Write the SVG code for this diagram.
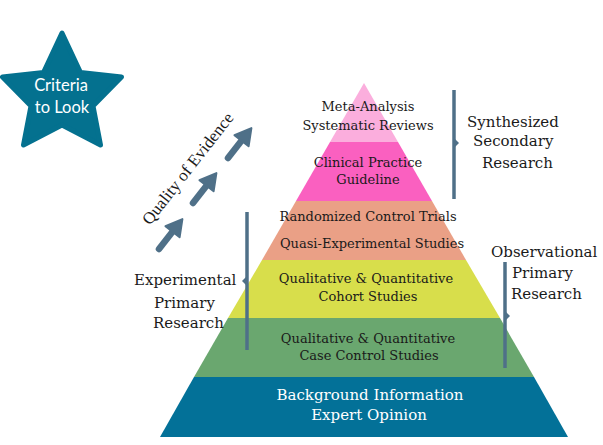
<svg xmlns="http://www.w3.org/2000/svg" width="603" height="445" viewBox="0 0 603 445">
<defs>
<style>
.t{font-family:"DejaVu Serif","Liberation Serif",serif;font-size:13px;fill:#1a1a1a;text-anchor:middle}
.w{font-family:"DejaVu Serif","Liberation Serif",serif;font-size:15px;fill:#ffffff;text-anchor:middle}
.l{font-family:"DejaVu Serif","Liberation Serif",serif;font-size:15px;fill:#1a1a1a}
.br{stroke:#4f7088;stroke-width:3.5;fill:none}
.nt{fill:#4f7088}
.s{font-family:Lato,"Open Sans",sans-serif;font-size:16.5px;fill:#ffffff;text-anchor:middle}
</style>
<g id="arr"><line x1="0" y1="0" x2="26" y2="0" stroke="#4f7088" stroke-width="6.5" stroke-linecap="round"/><polygon points="22,-9 38,0 22,9" fill="#4f7088" stroke="#4f7088" stroke-width="2" stroke-linejoin="round"/></g>
</defs>
<rect width="603" height="445" fill="#ffffff"/>
<g id="star">
<polygon points="62,33 80.5,72.5 121.5,77 93,106 100.5,145 62,125 23.5,145 31,106 2.5,77 43.5,72.5" fill="#04718f" stroke="#04718f" stroke-width="5" stroke-linejoin="round"/>
<text class="s" x="61" y="91">Criteria</text>
<text class="s" x="62" y="113">to Look</text>
</g>
<g id="tier1"><polygon points="364,83 398,142 330,142" fill="#fbaedd"/><text class="t" x="368" y="111">Meta-Analysis</text><text class="t" x="368" y="130">Systematic Reviews</text></g>
<g id="tier2"><polygon points="330,142 398,142 432,201 296,201" fill="#fa60c0"/><text class="t" x="368" y="167">Clinical Practice</text><text class="t" x="368" y="184">Guideline</text></g>
<g id="tier3"><polygon points="296,201 432,201 466,260 262,260" fill="#eaa086"/><text class="t" x="368" y="221">Randomized Control Trials</text><text class="t" x="372" y="248">Quasi-Experimental Studies</text></g>
<g id="tier4"><polygon points="262,260 466,260 500,318 228,318" fill="#d8de4b"/><text class="t" x="366" y="283">Qualitative &amp; Quantitative</text><text class="t" x="368" y="301">Cohort Studies</text></g>
<g id="tier5"><polygon points="228,318 500,318 534,377 194,377" fill="#6aa76f"/><text class="t" x="368" y="343">Qualitative &amp; Quantitative</text><text class="t" x="369" y="360">Case Control Studies</text></g>
<g id="tier6"><polygon points="194,377 534,377 568,437 160,437" fill="#037198"/><text class="w" x="370" y="400">Background Information</text><text class="w" x="369" y="420">Expert Opinion</text></g>
<g id="synthesized"><path class="br" d="M454,90 V199"/><polygon class="nt" points="455,139 459,143 455,147"/><text class="l" x="467" y="127">Synthesized</text><text class="l" x="473" y="146">Secondary</text><text class="l" x="482" y="168">Research</text></g>
<g id="observational"><path class="br" d="M505,262 V368"/><polygon class="nt" points="506,312 510,316 506,320"/><text class="l" x="491" y="257">Observational</text><text class="l" x="512" y="278">Primary</text><text class="l" x="511" y="299">Research</text></g>
<g id="experimental"><path class="br" d="M247,212 V350"/><polygon class="nt" points="246,277 242,281 246,285"/><text class="l" x="134" y="285">Experimental</text><text class="l" x="154" y="308">Primary</text><text class="l" x="153" y="328">Research</text></g>
<g id="quality">
<text x="150" y="226" transform="rotate(-52 150 226)" style="font-family:'Liberation Serif',serif;font-size:17px;fill:#1a1a1a">Quality of Evidence</text>
</g>
<g id="connectors">
<use href="#arr" transform="translate(159,249) rotate(-52)"/>
<use href="#arr" transform="translate(193,203) rotate(-52)"/>
<use href="#arr" transform="translate(228,158) rotate(-52)"/>
</g>
</svg>
